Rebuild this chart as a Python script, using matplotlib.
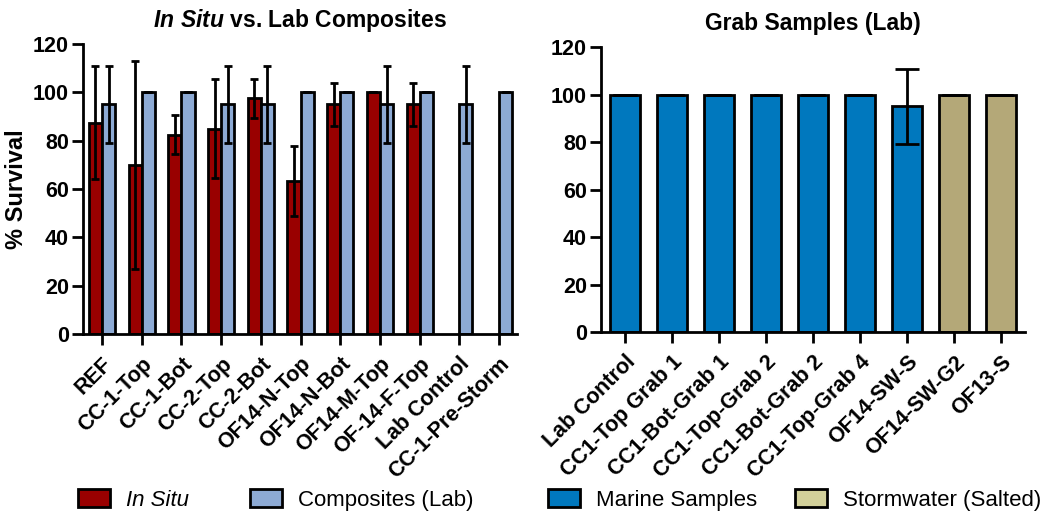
import numpy as np
import matplotlib
matplotlib.use("Agg")
import matplotlib.pyplot as plt
from matplotlib.patches import Patch

plt.rcParams["font.family"] = ["Liberation Sans", "DejaVu Sans"]
plt.rcParams["mathtext.fontset"] = "custom"
plt.rcParams["mathtext.it"] = "Liberation Sans:italic:bold"
plt.rcParams["mathtext.rm"] = "Liberation Sans:bold"

# --- du lieu bieu do trai ---
sites = ["REF", "CC-1-Top", "CC-1-Bot", "CC-2-Top", "CC-2-Bot", "OF14-N-Top",
         "OF14-N-Bot", "OF14-M-Top", "OF-14-F-Top", "Lab Control", "CC-1-Pre-Storm"]
in_situ = [87.5, 70, 82.5, 85, 97.5, 63.5, 95, 100, 95, np.nan, np.nan]
in_situ_err = [23.5, 43, 8, 20.5, 8, 14.5, 9, 0, 9, 0, 0]
composite = [95, 100, 100, 95, 95, 100, 100, 95, 100, 95, 100]
composite_err = [15.8, 0, 0, 15.8, 15.8, 0, 0, 15.8, 0, 15.8, 0]

# --- du lieu bieu do phai ---
grabs = ["Lab Control", "CC1-Top Grab 1", "CC1-Bot-Grab 1", "CC1-Top-Grab 2",
         "CC1-Bot-Grab 2", "CC1-Top-Grab 4", "OF14-SW-S", "OF14-SW-G2", "OF13-S"]
grab_vals = [100, 100, 100, 100, 100, 100, 95, 100, 100]
grab_err = [0, 0, 0, 0, 0, 0, 15.8, 0, 0]
grab_type = ["marine"] * 7 + ["storm"] * 2

RED = "#990000"
LBLUE = "#8DAAD4"
MARINE = "#0078BE"
STORM = "#B4A878"
STORM_LEG = "#D2D09A"

fig = plt.figure(figsize=(10.45, 5.18), dpi=100)
ax1 = fig.add_axes([0.0794, 0.3552, 0.4153, 0.5598])
ax2 = fig.add_axes([0.5751, 0.359, 0.4058, 0.550])


def style_axis(ax):
    ax.spines["top"].set_visible(False)
    ax.spines["right"].set_visible(False)
    ax.spines["left"].set_linewidth(2)
    ax.spines["bottom"].set_linewidth(2)
    ax.tick_params(axis="both", width=2, length=8, direction="out")
    ax.tick_params(axis="y", pad=2)
    ax.tick_params(axis="x", pad=6)
    ax.set_ylim(0, 120)
    ax.set_yticks(range(0, 121, 20))
    for lbl in ax.get_yticklabels():
        lbl.set_fontsize(15.5)
        lbl.set_fontweight("bold")


# Bieu do trai
x = np.arange(len(sites))
w = 0.33
err_kw = dict(ecolor="black", elinewidth=2, capsize=3, capthick=2)
ax1.bar(x - w / 2, in_situ, w, color=RED, edgecolor="black", linewidth=2,
        yerr=in_situ_err, error_kw=err_kw)
ax1.bar(x + w / 2, composite, w, color=LBLUE, edgecolor="black", linewidth=2,
        yerr=composite_err, error_kw=err_kw)
ax1.set_xlim(-0.48, len(sites) - 0.55)
style_axis(ax1)
ax1.set_xticks(x)
ax1.set_xticklabels(sites, rotation=45, ha="right", rotation_mode="anchor",
                    fontsize=15.5, fontweight="bold")
ax1.set_ylabel("% Survival", fontsize=17, fontweight="bold", labelpad=4)
ax1.set_title(r"$\it{In\ Situ}$" + " vs. Lab Composites", fontsize=16.5,
              fontweight="bold", pad=12)

# Bieu do phai
x2 = np.arange(len(grabs))
colors2 = [MARINE if t == "marine" else STORM for t in grab_type]
ax2.bar(x2, grab_vals, 0.65, color=colors2, edgecolor="black", linewidth=2,
        yerr=grab_err, error_kw=dict(ecolor="black", elinewidth=2, capsize=8.5, capthick=2))
ax2.set_xlim(-0.51, len(grabs) - 0.49)
style_axis(ax2)
ax2.set_xticks(x2)
ax2.set_xticklabels(grabs, rotation=45, ha="right", rotation_mode="anchor",
                    fontsize=15.5, fontweight="bold")
ax2.set_title("Grab Samples (Lab)", fontsize=16.5, fontweight="bold", pad=12)

# Chu thich: moi muc mot legend rieng de dat dung vi tri
leg_items = [
    (RED, "In Situ", 78, "italic"),
    (LBLUE, "Composites (Lab)", 250, "normal"),
    (MARINE, "Marine Samples", 548, "normal"),
    (STORM_LEG, "Stormwater (Salted)", 795, "normal"),
]
for col, lab, px, style in leg_items:
    leg = fig.legend(handles=[Patch(facecolor=col, edgecolor="black", linewidth=2, label=lab)],
                     loc="center left", bbox_to_anchor=(px / 1045, (518 - 500) / 518),
                     frameon=False, fontsize=16, handlelength=1.45, handleheight=0.85,
                     handletextpad=0.7, borderpad=0, borderaxespad=0)
    leg.get_texts()[0].set_fontstyle(style)

fig.savefig("out.png", dpi=100)
